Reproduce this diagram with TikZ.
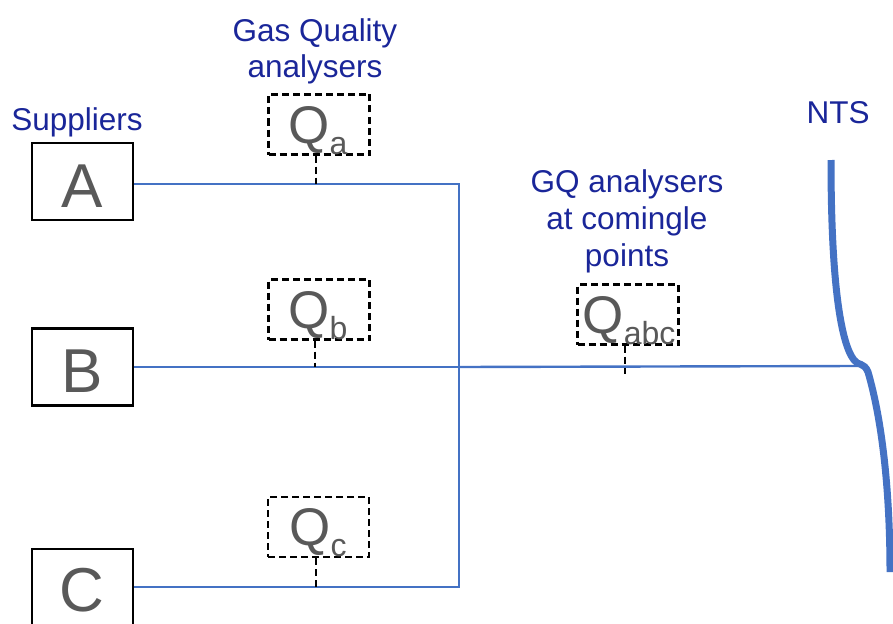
\documentclass[tikz,border=0pt]{standalone}
\usepackage{fontspec}
\setmainfont{Liberation Sans}
\definecolor{navy}{HTML}{1A2699}
\definecolor{pipe}{HTML}{4472C4}
\definecolor{letter}{HTML}{595959}
\begin{document}
\begin{tikzpicture}[x=1pt,y=-1pt,
  supplier/.style={draw=black,line width=2.2pt,minimum width=101pt,minimum height=77pt,inner sep=0pt},
  qbox/.style={draw=black,line width=2.2pt,dash pattern=on 7pt off 4pt,minimum width=101pt,minimum height=60pt,inner sep=0pt},
  lbl/.style={text=navy,font=\fontsize{31.5}{36}\selectfont,anchor=base,inner sep=0pt},
  big/.style={text=letter,font=\fontsize{62}{62}\selectfont,anchor=base,inner sep=0pt},
  qtext/.style={text=letter,font=\fontsize{53}{53}\selectfont,anchor=base,inner sep=0pt},
  thin/.style={draw=pipe,line width=1.3pt},
  stub/.style={draw=black,line width=2.2pt,dash pattern=on 7pt off 4pt}]
\useasboundingbox (0,0) rectangle (893,623);
\clip (0,0) rectangle (893,623);
% labels
\node[lbl] (t1) at (315,42) {Gas Quality};
\node[lbl] (t2) at (315,78) {analysers};
\node[lbl] (sup) at (77,130) {Suppliers};
\node[lbl] (nts) at (838,123) {NTS};
\node[lbl] (g1) at (627,192) {GQ analysers};
\node[lbl] (g2) at (627,229) {at comingle};
\node[lbl] (g3) at (627,266) {points};
% supplier boxes
\node[supplier] (A) at (82.5,181.5) {};
\node[supplier] (B) at (82.5,367) {};
\node[supplier] (C) at (82.5,587.5) {};
\node[big] (At) at (82,207) {A};
\node[big] (Bt) at (82,392.5) {B};
\node[big] (Ct) at (82,611) {C};
% analyser boxes
\node[qbox] (qa) at (319,124.5) {};
\node[qbox] (qb) at (319,309.5) {};
\node[qbox] (qc) at (318.5,527) {};
\node[qbox] (qabc) at (628,314.5) {};
\node[qtext] (qat) at (318,143) {Q\raisebox{-11pt}{\fontsize{32}{32}\selectfont a}};
\node[qtext] (qbt) at (318,328) {Q\raisebox{-11pt}{\fontsize{32}{32}\selectfont b}};
\node[qtext] (qct) at (318,545) {Q\raisebox{-11pt}{\fontsize{32}{32}\selectfont c}};
\node[qtext] (qabct) at (629,333) {Q\raisebox{-11pt}{\fontsize{32}{32}\selectfont abc}};
% pipes
\coordinate (ja) at (459,184);
\coordinate (jb) at (459,367);
\coordinate (jc) at (459,587);
\coordinate (nj) at (858,366);
\draw[thin] (A.east |- ja) -- (ja) -- (jc) -- (C.east |- jc);
\draw[thin] (B.east |- jb) -- (jb);
\draw[draw=pipe,line width=2.4pt] (jb) -- (nj);
% stubs
\coordinate (sa) at (316,184);
\coordinate (sb) at (315,367);
\coordinate (sc) at (316,587);
\coordinate (sabc) at (625,374);
\draw[stub] (qa.south -| sa) -- (sa);
\draw[stub] (qb.south -| sb) -- (sb);
\draw[stub] (qc.south -| sc) -- (sc);
\draw[stub] (qabc.south -| sabc) -- (sabc);
% NTS pipe
\coordinate (n0) at (831,160);
\coordinate (n1) at (890,572);
\draw[draw=pipe,line width=7pt]
  (n0) .. controls (831,290) and (842,345) .. (854,360)
       .. controls (858,366) and (864,362) .. (868,372)
       .. controls (882,420) and (890,490) .. (n1);
\end{tikzpicture}
\end{document}
